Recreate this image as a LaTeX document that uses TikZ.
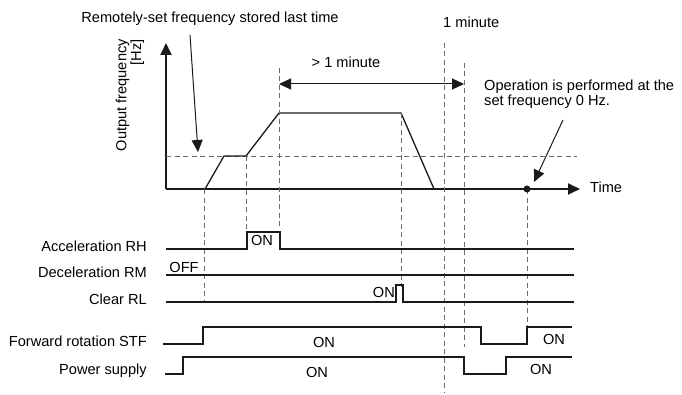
\documentclass[tikz,border=0pt]{standalone}
\usepackage{fontspec}
\setmainfont{Liberation Sans}
\usetikzlibrary{arrows.meta,positioning}
\definecolor{timeink}{HTML}{1A1A1A}
\definecolor{guidegray}{HTML}{6A6A6A}

\begin{document}
\begin{tikzpicture}[x=1pt,y=1pt,
    lbl/.style={font=\fontsize{14.6}{13.5}\selectfont,inner sep=0pt},
    sig/.style={timeink,line width=1.3pt},
    guide/.style={guidegray,line width=.9pt,dash pattern=on 5pt off 3.5pt},
    tip/.style={-{Triangle[length=12pt,width=11pt]}}]
  \useasboundingbox (0,0) rectangle (682,394);
  % axes
  \coordinate (org) at (166,205);
  \coordinate (ytop) at (166,351);
  \coordinate (xend) at (580,205);
  \draw[timeink,line width=1.8pt,tip] (org) -- (ytop);
  \draw[timeink,line width=1.8pt,tip] (org) -- (xend);
  \node[lbl,anchor=base west] (time) at (590,201) {Time};
  \node[lbl,rotate=90,align=right,anchor=east] (yl) at (130,355) {Output frequency\\{[Hz]}};
  % stored frequency level and output curve
  \draw[guide] (166,238) -- (577,238);
  \draw[sig] (205,205) -- (224,238) -- (246,238) -- (279,281) -- (401,281) -- (434,205);
  % guide lines
  \draw[guide] (204,205) -- (204,94);
  \draw[guide] (246,238) -- (246,162);
  \draw[guide] (279,326) -- (279,166);
  \draw[guide] (401,281) -- (401,107);
  \draw[guide] (444,351) -- (444,2);
  \draw[guide] (464,331) -- (464,47);
  \draw[guide] (527,205) -- (527,67);
  % notes on top
  \node[lbl,anchor=base] (remote) at (210,371) {Remotely-set frequency stored last time};
  \coordinate (remtail) at (190,359);
  \coordinate (remhead) at (198,242);
  \draw[timeink,line width=1pt,tip] (remtail) -- (remhead);
  \node[lbl,anchor=base west] (onemin) at (443,366) {1 minute};
  \node[lbl,anchor=base] (overmin) at (346,326) {> 1 minute};
  \coordinate (spanl) at (279,310);
  \coordinate (spanr) at (464,310);
  \draw[timeink,line width=1pt,{Triangle[length=12pt,width=11pt]}-{Triangle[length=12pt,width=11pt]}] (spanl) -- (spanr);
  \node[lbl,align=left,anchor=north west] (oper) at (484,314) {Operation is performed at the\\set frequency 0 Hz.};
  \fill[timeink] (527,205) circle (3.5) coordinate (zero);
  \coordinate (opertail) at (563,274);
  \coordinate (operhead) at (534,212);
  \draw[timeink,line width=1pt,tip] (opertail) -- (operhead);
  % signals
  \node[lbl,anchor=base east] (rh) at (147,143) {Acceleration RH};
  \node[lbl,anchor=base east] (rm) at (147,117) {Deceleration RM};
  \node[lbl,anchor=base east] (rl) at (147,90) {Clear RL};
  \node[lbl,anchor=base east] (stf) at (147,48) {Forward rotation STF};
  \node[lbl,anchor=base east] (pwr) at (147,20) {Power supply};
  \draw[sig] (166,145) -- (247,145) -- (247,162) -- (280,162) -- (280,145) -- (574,145);
  \node[lbl,anchor=base] (rhon) at (262,149) {ON};
  \draw[sig] (166,119) -- (574,119);
  \node[lbl,anchor=base] (rmoff) at (184,122) {OFF};
  \draw[sig] (166,92) -- (396,92) -- (396,109) -- (403,109) -- (403,92) -- (574,92);
  \node[lbl,anchor=base east] (rlon) at (395,97) {ON};
  \draw[sig] (163,50) -- (203,50) -- (203,67) -- (481,67) -- (481,50) -- (527,50) -- (527,67) -- (572,67);
  \node[lbl,anchor=base] (stfon) at (324,47) {ON};
  \node[lbl,anchor=base] (stfon2) at (554,50) {ON};
  \draw[sig] (165,20) -- (183,20) -- (183,37) -- (464,37) -- (464,20) -- (506,20) -- (506,37) -- (572,37);
  \node[lbl,anchor=base] (pwron) at (317,17) {ON};
  \node[lbl,anchor=base] (pwron2) at (541,20) {ON};
\end{tikzpicture}
\end{document}
